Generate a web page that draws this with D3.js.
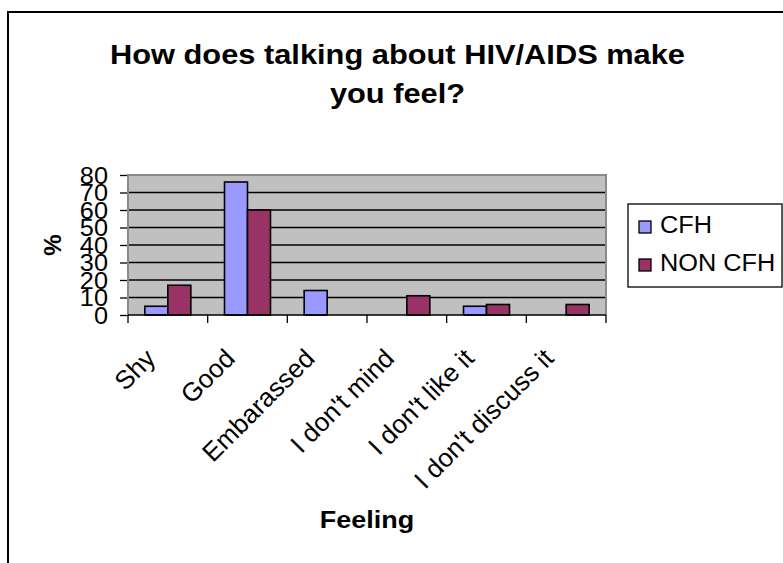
<!DOCTYPE html>
<html>
<head>
<meta charset="utf-8">
<script src="https://cdn.jsdelivr.net/npm/d3@7"></script>
<style>
  html, body { margin: 0; padding: 0; background: #fff; }
  svg { display: block; font-family: "Liberation Sans", Arial, sans-serif; }
</style>
</head>
<body>
<svg id="chart" width="783" height="563"></svg>
<script>
// Survey answers: how talking about HIV/AIDS makes respondents feel (%)
const categories = ["Shy", "Good", "Embarassed", "I don't mind", "I don't like it", "I don't discuss it"];
const seriesNames = ["CFH", "NON CFH"];
const cfhValues = [5, 76, 14, 0, 5, 0];
const nonCfhValues = [17, 60, 0, 11, 6, 6];
const yTickValues = [0, 10, 20, 30, 40, 50, 60, 70, 80];
const titleLines = ["How does talking about HIV/AIDS make", "you feel?"];
const xTitle = "Feeling";
const yTitle = "%";

const colors = { "CFH": "#9999FF", "NON CFH": "#993366" };
const plot = { left: 128, right: 606, top: 175, bottom: 315 };
const stretch = 1.1; // glyphs are drawn slightly wide

const svg = d3.select("#chart");

// widen a horizontal text element by the stretch factor, keeping its anchor
function widen(sel) {
  sel.each(function () {
    const len = this.getComputedTextLength();
    d3.select(this).attr("textLength", len * stretch).attr("lengthAdjust", "spacingAndGlyphs");
  });
}

// outer chart frame (top and left edges visible)
svg.append("path")
  .attr("d", "M8,563V12H783")
  .attr("fill", "none").attr("stroke", "#000").attr("stroke-width", 2);

// scales
const x = d3.scaleBand().domain(categories).range([plot.left, plot.right]).padding(0);
const xs = d3.scaleBand().domain(seriesNames)
  .range([x.bandwidth() / 2 - 23, x.bandwidth() / 2 + 23]).padding(0);
const y = d3.scaleLinear().domain([0, 80]).range([plot.bottom, plot.top]);

// plot background
svg.append("rect")
  .attr("x", plot.left).attr("y", plot.top)
  .attr("width", plot.right - plot.left).attr("height", plot.bottom - plot.top)
  .attr("fill", "#C0C0C0");

// horizontal gridlines
svg.append("g").selectAll("line")
  .data(yTickValues.filter(v => v > 0 && v < 80))
  .join("line")
  .attr("x1", plot.left).attr("x2", plot.right)
  .attr("y1", d => y(d)).attr("y2", d => y(d))
  .attr("stroke", "#000").attr("stroke-width", 1.3);

// bars
const rows = categories.map((c, i) => ({ cat: c, vals: [
  { key: "CFH", value: cfhValues[i] },
  { key: "NON CFH", value: nonCfhValues[i] }
]}));
svg.append("g").selectAll("g")
  .data(rows).join("g")
  .attr("transform", d => `translate(${x(d.cat)},0)`)
  .selectAll("rect")
  .data(d => d.vals.filter(v => v.value > 0))
  .join("rect")
  .attr("x", d => xs(d.key))
  .attr("width", xs.bandwidth())
  .attr("y", d => y(d.value))
  .attr("height", d => y(0) - y(d.value))
  .attr("fill", d => colors[d.key])
  .attr("stroke", "#000").attr("stroke-width", 1.6);

// y axis
const yAxis = svg.append("g")
  .attr("transform", `translate(${plot.left},0)`)
  .call(d3.axisLeft(y).tickValues(yTickValues).tickSize(8).tickPadding(12).tickFormat(d3.format("d")));
yAxis.selectAll("line").attr("stroke", "#000").attr("stroke-width", 1.3);
yAxis.select(".domain").attr("stroke", "#000");
yAxis.selectAll("text")
  .attr("font-size", 23).attr("font-family", "'Liberation Sans', Arial, sans-serif")
  .attr("fill", "#000").attr("dy", "0.36em")
  .call(widen);

// plot area border (gray)
svg.append("path")
  .attr("d", `M${plot.left},${plot.bottom}V${plot.top}H${plot.right}V${plot.bottom}`)
  .attr("fill", "none").attr("stroke", "#8a8a8a").attr("stroke-width", 2);

// x axis with ticks on category boundaries
const xAxisG = svg.append("g");
xAxisG.append("line")
  .attr("x1", plot.left).attr("x2", plot.right)
  .attr("y1", plot.bottom).attr("y2", plot.bottom)
  .attr("stroke", "#000").attr("stroke-width", 1.6);
const boundaries = categories.map(c => x(c)).concat([x(categories[categories.length - 1]) + x.bandwidth()]);
xAxisG.selectAll("line.tick")
  .data(boundaries).join("line").attr("class", "tick")
  .attr("x1", d => d).attr("x2", d => d)
  .attr("y1", plot.bottom).attr("y2", plot.bottom + 8)
  .attr("stroke", "#000").attr("stroke-width", 1.3);

// rotated category labels
xAxisG.selectAll("text")
  .data(categories).join("text")
  .attr("transform", d => `translate(${x(d) + x.bandwidth() / 2 - 11},${plot.bottom + 45}) rotate(-45)`)
  .attr("text-anchor", "end")
  .attr("font-size", 26)
  .attr("fill", "#000")
  .text(d => d);

// chart title
svg.append("g").selectAll("text")
  .data(titleLines).join("text")
  .attr("x", 397.5).attr("y", (d, i) => 64 + i * 39)
  .attr("text-anchor", "middle")
  .attr("font-size", 28).attr("font-weight", "bold")
  .attr("fill", "#000")
  .text(d => d)
  .call(widen);

// axis titles
svg.append("text")
  .attr("x", (plot.left + plot.right) / 2).attr("y", 528)
  .attr("text-anchor", "middle")
  .attr("font-size", 24.5).attr("font-weight", "bold")
  .attr("fill", "#000")
  .text(xTitle)
  .call(widen);

svg.append("text")
  .attr("transform", `translate(52,${(plot.top + plot.bottom) / 2}) rotate(-90)`)
  .attr("text-anchor", "middle").attr("dy", "0.36em")
  .attr("font-size", 24).attr("font-weight", "bold")
  .attr("fill", "#000")
  .text(yTitle);

// legend
const legend = svg.append("g");
legend.append("rect")
  .attr("x", 628).attr("y", 204).attr("width", 154).attr("height", 83)
  .attr("fill", "#fff").attr("stroke", "#000").attr("stroke-width", 1.3);
const items = legend.selectAll("g.item")
  .data(seriesNames).join("g").attr("class", "item")
  .attr("transform", (d, i) => `translate(639,${221 + i * 38})`);
items.append("rect")
  .attr("width", 12).attr("height", 12)
  .attr("fill", d => colors[d])
  .attr("stroke", "#000").attr("stroke-width", 1.3);
items.append("text")
  .attr("x", 21).attr("y", 12)
  .attr("font-size", 23).attr("fill", "#000")
  .text(d => d)
  .call(widen);
</script>
</body>
</html>
